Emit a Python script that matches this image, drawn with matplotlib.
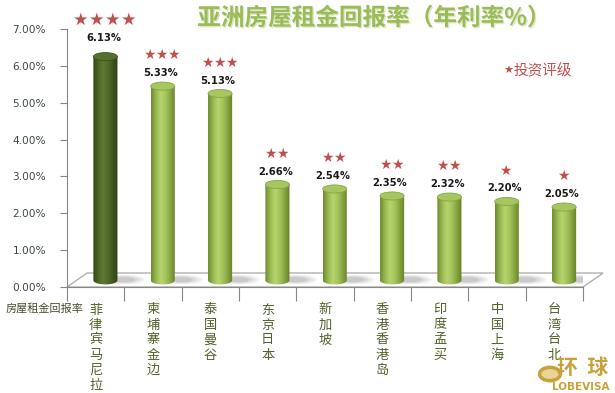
import numpy as np
import matplotlib.pyplot as plt
from matplotlib.patches import Ellipse, Polygon, PathPatch, Circle
from matplotlib.path import Path
from matplotlib.colors import LinearSegmentedColormap
import matplotlib.patheffects as pe

# data
cities = ['菲律宾马尼拉', '柬埔寨金边', '泰国曼谷', '东京日本', '新加坡',
          '香港香港岛', '印度孟买', '中国上海', '台湾台北']
yields = [6.13, 5.33, 5.13, 2.66, 2.54, 2.35, 2.32, 2.20, 2.05]
ratings = [4, 3, 3, 2, 2, 2, 2, 1, 1]
yticks = [0, 1, 2, 3, 4, 5, 6, 7]

CJK = ['Noto Sans CJK SC', 'DejaVu Sans']
RED = '#c0504d'

light = LinearSegmentedColormap.from_list(
    'light', ['#6f8b2c', '#98b852', '#b7d56d', '#a3c35c', '#86a43e', '#657f27'])
dark = LinearSegmentedColormap.from_list(
    'dark', ['#33461a', '#4c6426', '#5e7a33', '#516b2a', '#3f5520', '#2f4017'])

fig = plt.figure(figsize=(6.15, 3.93), dpi=100)
ax = fig.add_axes([67 / 615, 1 - 287 / 393, 516 / 615, 258 / 393])
ax.set_xlim(-0.5, 8.5)
ax.set_ylim(0, 7)

# 3d floor
dx, dy = 0.35, 0.38
floor = Polygon([(-0.5, 0), (-0.5 + dx, dy), (8.5 + dx, dy), (8.5, 0)],
                closed=True, facecolor='white', edgecolor='#b0b0b0', lw=1,
                clip_on=False, zorder=1)
ax.add_patch(floor)

shift = 0.17
bw = 0.42
base = 0.18
eh = 0.22
grad = np.linspace(0, 1, 64).reshape(1, -1)
t = np.linspace(np.pi, 2 * np.pi, 30)

for i, v in enumerate(yields):
    cx = i + shift
    top = v + 0.12
    cmap = dark if i == 0 else light
    # shadow
    for k, a in zip(range(4), [0.07, 0.08, 0.10, 0.12]):
        ax.add_patch(Ellipse((cx + 0.32, base + 0.02), 0.75 - k * 0.12,
                             0.26 - k * 0.04, facecolor='#606060', edgecolor='none',
                             alpha=a, zorder=2))
    # body with rounded bottom
    verts = [(cx - bw / 2, top), (cx - bw / 2, base)]
    verts += [(cx + bw / 2 * np.cos(a), base + eh / 2 * np.sin(a)) for a in t]
    verts += [(cx + bw / 2, top), (cx - bw / 2, top)]
    body = PathPatch(Path(verts, closed=True), facecolor='none', edgecolor='none')
    ax.add_patch(body)
    im = ax.imshow(grad, cmap=cmap, extent=[cx - bw / 2, cx + bw / 2, base - eh, top],
                   aspect='auto', zorder=3, interpolation='bicubic')
    im.set_clip_path(body)
    topc = '#566f2d' if i == 0 else '#a6c660'
    edgec = '#3e521f' if i == 0 else '#87a544'
    ax.add_patch(Ellipse((cx, top), bw, eh, facecolor=topc, edgecolor=edgec,
                         lw=0.6, zorder=4))
    # labels
    up = 19 if i == 0 else 13
    ax.annotate(f'{v:.2f}%', (cx, top), xytext=(-2, up), textcoords='offset pixels',
                ha='center', va='center', fontsize=7.2, fontweight='bold',
                color='#1a1a1a', zorder=6, annotation_clip=False)
    sup = 37 if i == 0 else 31
    gap = 16 if i == 0 else 12
    n = ratings[i]
    for k in range(n):
        off = (k - (n - 1) / 2) * gap - 1
        ax.annotate('★', (cx, top), xytext=(off, sup), textcoords='offset pixels',
                    ha='center', va='center', fontsize=12.5 if i == 0 else 10,
                    color=RED, zorder=6, annotation_clip=False)

# axes styling
for s in ['top', 'right']:
    ax.spines[s].set_visible(False)
ax.spines['left'].set_color('#868686')
ax.spines['bottom'].set_color('#868686')
ax.set_yticks(yticks)
ax.set_yticklabels([f'{y:.2f}%' for y in yticks], fontsize=7.6, color='#3f4a45')
ax.tick_params(axis='y', length=5, color='#868686', pad=10)
ax.set_xticks(np.arange(-0.5, 9, 1))
ax.set_xticklabels([])
ax.tick_params(axis='x', length=10, color='#868686')

# vertical category labels
for i, name in enumerate(cities):
    for j, ch in enumerate(name):
        ax.annotate(ch, (i, 0), xytext=(0, -23 - 15 * j), textcoords='offset pixels',
                    ha='center', va='center', fontsize=9.5, color='#4f6228',
                    family=CJK, annotation_clip=False)

fig.text(45 / 615, 1 - 308 / 393, '房屋租金回报率', ha='center', va='center',
         fontsize=8, color='#4a4a30', family=CJK)

fig.text(374 / 615, 1 - 18 / 393, '亚洲房屋租金回报率（年利率%）', ha='center',
         va='center', fontsize=17, fontweight='bold', color='#9bbb59', family=CJK,
         path_effects=[pe.withSimplePatchShadow(offset=(1, -1), shadow_rgbFace='#c8d8a0',
                                                alpha=0.6)])

fig.text(503 / 615, 1 - 71 / 393, '★', ha='left', va='center', fontsize=8,
         color=RED)
fig.text(514 / 615, 1 - 71 / 393, '投资评级', ha='left', va='center', fontsize=10.5,
         color=RED, family=CJK)

# logo
gold = '#c9a13b'
fig.patches.append(Circle((550 / 615, 1 - 374 / 393), 0.017, transform=fig.transFigure,
                          facecolor='#e8d49a', edgecolor=gold, lw=2.5))
fig.text(583 / 615, 1 - 368 / 393, '环  球', ha='center', va='center', fontsize=15,
         fontweight='bold', color=gold, family=CJK)
fig.text(581 / 615, 1 - 387 / 393, 'LOBEVISA', ha='center', va='center', fontsize=7.5,
         fontweight='bold', color=gold)

fig.savefig('out.png', dpi=100)
